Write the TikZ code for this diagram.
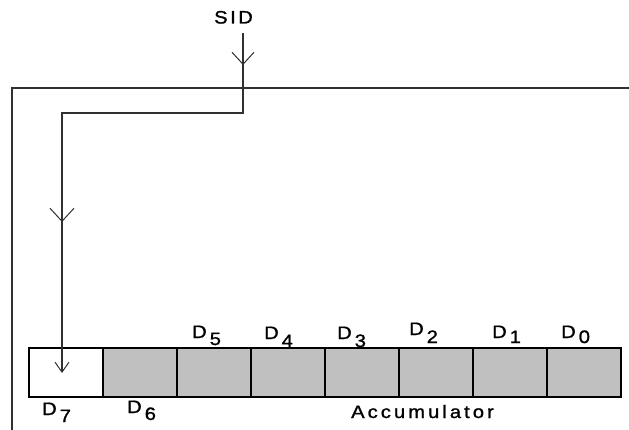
\documentclass[tikz,border=0pt]{standalone}
\usepackage{fontspec}
\setmainfont{Liberation Sans}[FakeStretch=1.12,FakeBold=1.2]
\newfontfamily\lsfont{Liberation Sans}[LetterSpace=17,FakeStretch=1.12,FakeBold=1.2]
\newfontfamily\lssid{Liberation Sans}[LetterSpace=14,FakeStretch=1.12,FakeBold=1.2]
\usetikzlibrary{arrows.meta,decorations.markings}
\definecolor{cellgray}{HTML}{C0C0C0}
\definecolor{linegray}{HTML}{303030}
\newcommand{\dlab}[2]{D\hspace{3pt}\raisebox{-#2pt}{#1}}
\tikzset{
  vsid/.tip={Straight Barb[length=12pt,width=22pt,line width=1pt]},
  vmid/.tip={Straight Barb[length=13pt,width=24pt,line width=1pt]},
  vend/.tip={Straight Barb[length=10pt,width=14pt,line width=1pt]},
}
\begin{document}
\begin{tikzpicture}[x=1pt,y=-1pt,
  cell/.style={draw=black,line width=1.5pt,fill=cellgray,minimum width=74pt,minimum height=49pt,inner sep=0pt,outer sep=0pt,anchor=north west},
  emptycell/.style={cell,fill=white},
  lab/.style={anchor=base west,inner sep=0pt,font=\fontsize{18}{20}\selectfont},
  lslab/.style={anchor=base west,inner sep=0pt,font=\fontsize{18}{20}\selectfont\lsfont},
  sidlab/.style={anchor=base west,inner sep=0pt,font=\fontsize{18}{20}\selectfont\lssid},
  frame/.style={draw=linegray,line width=1.8pt},
  conn/.style={draw=linegray,line width=1.5pt}
]
\useasboundingbox (0,0) rectangle (629,430);
% frame
\draw[frame] (12,430) -- (12,88) -- (629,88);
% cells
\node[emptycell] (c7) at (29,348) {};
\node[cell] (c6) at (103,348) {};
\node[cell] (c5) at (177,348) {};
\node[cell] (c4) at (251,348) {};
\node[cell] (c3) at (325,348) {};
\node[cell] (c2) at (399,348) {};
\node[cell] (c1) at (473,348) {};
\node[cell] (c0) at (547,348) {};
% labels
\node[lab] (l7) at (42,415) {\dlab{7}{7}};
\node[lab] (l6) at (127,413) {\dlab{6}{7}};
\node[lab] (l5) at (192,338) {\dlab{5}{7}};
\node[lab] (l4) at (264,339) {\dlab{4}{8}};
\node[lab] (l3) at (337,339) {\dlab{3}{8}};
\node[lab] (l2) at (409,335) {\dlab{2}{8}};
\node[lab] (l1) at (492,338) {\dlab{1}{5}};
\node[lab] (l0) at (561,338) {\dlab{0}{5}};
\node[lslab] (acc) at (351,418) {Accumulator};
\node[sidlab] (sid) at (214,23.5) {SID};
% connector
\coordinate (s0) at (243,33);
\coordinate (t1) at (243,113);
\coordinate (t2) at (62,113);
\coordinate (tip) at (62,373);
\draw[conn,-{vend},postaction={decorate},
  decoration={markings,
    mark=at position 32pt with {\arrow{vsid}},
    mark=at position 370pt with {\arrow{vmid}}}]
  (s0) -- (t1) -- (t2) -- (tip);
\end{tikzpicture}
\end{document}
